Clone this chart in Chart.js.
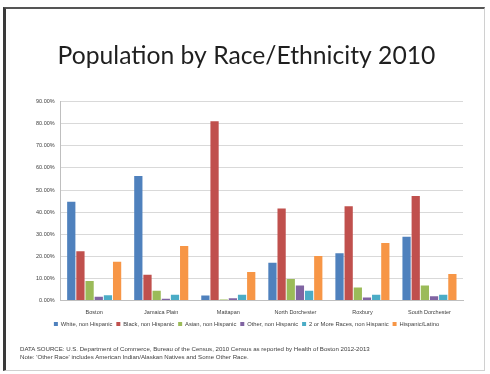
<!DOCTYPE html>
<html>
<head>
<meta charset="utf-8">
<script src="https://cdn.jsdelivr.net/npm/chart.js@4/dist/chart.umd.min.js"></script>
<style>
  html, body { margin: 0; padding: 0; background: #ffffff; }
  #wrap { position: relative; width: 490px; height: 374px; overflow: hidden; background: #fff; }
  #frame { position: absolute; left: 3px; top: 7px; width: 482px; height: 364px;
           border-left: 3px solid #3a3a3a; border-top: 2px solid #555; border-right: 1px solid #d0d0d0; border-bottom: 1px solid #d0d0d0; box-sizing: border-box; }
  canvas { position: absolute; left: 0; top: 0; }
  .src { position: absolute; left: 20px; font-family: "Liberation Sans", Arial, sans-serif; font-size: 6.1px; color: #404040; white-space: nowrap; }
</style>
</head>
<body>
<div id="wrap">
  <div id="frame"></div>
  <canvas id="c" width="490" height="374"></canvas>
  <div class="src" style="top:345px">DATA SOURCE: U.S. Department of Commerce, Bureau of the Census, 2010 Census as reported by Health of Boston 2012-2013</div>
  <div class="src" style="top:353px">Note: 'Other Race' includes American Indian/Alaskan Natives and Some Other Race.</div>
</div>
<script>
const categories = ["Boston", "Jamaica Plain", "Mattapan", "North Dorchester", "Roxbury", "South Dorchester"];
const seriesNames = ["White, non Hispanic", "Black, non Hispanic", "Asian, non Hispanic", "Other, non Hispanic", "2 or More Races, non Hispanic", "Hispanic/Latino"];
const white    = [0.447, 0.564, 0.023, 0.171, 0.214, 0.289];
const black    = [0.223, 0.117, 0.811, 0.417, 0.427, 0.473];
const asian    = [0.089, 0.044, 0.005, 0.098, 0.059, 0.068];
const other    = [0.017, 0.008, 0.011, 0.068, 0.014, 0.020];
const twoMore  = [0.024, 0.026, 0.026, 0.044, 0.026, 0.026];
const hispanic = [0.176, 0.247, 0.129, 0.202, 0.261, 0.120];
const colors = ["#4F81BD", "#C0504D", "#9BBB59", "#8064A2", "#4BACC6", "#F79646"];
const yTicks = [0, 0.1, 0.2, 0.3, 0.4, 0.5, 0.6, 0.7, 0.8, 0.9];

const seriesData = [white, black, asian, other, twoMore, hispanic];
const datasets = seriesNames.map((name, i) => ({
  label: name,
  data: seriesData[i],
  backgroundColor: colors[i],
  borderWidth: 0,
  categoryPercentage: 0.82,
  barPercentage: 0.9
}));

new Chart(document.getElementById("c"), {
  type: "bar",
  data: { labels: categories, datasets },
  options: {
    responsive: false,
    animation: false,
    devicePixelRatio: 1,
    layout: { padding: { left: 30, right: 27, top: 0, bottom: 37 } },
    plugins: {
      title: {
        display: true,
        text: "Population by Race/Ethnicity 2010",
        font: { family: "Lato, 'Open Sans', sans-serif", size: 24.7, weight: "normal" },
        color: "#1f1f1f",
        padding: { top: 41, bottom: 31 }
      },
      legend: {
        position: "bottom",
        labels: {
          boxWidth: 4, boxHeight: 4,
          font: { family: "'Liberation Sans', Arial, sans-serif", size: 5.8 },
          color: "#404040",
          padding: 4
        }
      },
      tooltip: { enabled: false }
    },
    scales: {
      x: {
        grid: { display: false },
        border: { color: "#bfbfbf" },
        ticks: { font: { family: "'Liberation Sans', Arial, sans-serif", size: 5.5 }, color: "#404040", padding: 1, maxRotation: 0 }
      },
      y: {
        min: 0, max: 0.9,
        afterBuildTicks: (axis) => { axis.ticks = yTicks.map(v => ({ value: v })); },
        grid: { color: "#d9d9d9", drawTicks: false },
        border: { color: "#bfbfbf" },
        ticks: {
          font: { family: "'Liberation Sans', Arial, sans-serif", size: 5.5 }, color: "#404040", padding: 6,
          callback: (v) => (v * 100).toFixed(2) + "%"
        }
      }
    }
  }
});
</script>
</body>
</html>
